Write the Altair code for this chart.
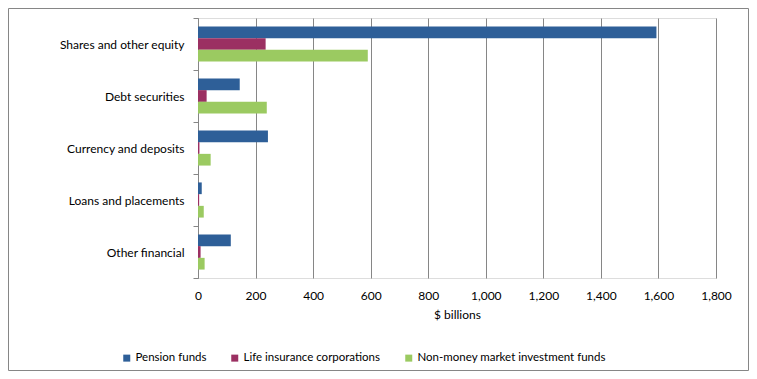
import altair as alt
import pandas as pd

categories = ["Shares and other equity", "Debt securities", "Currency and deposits",
              "Loans and placements", "Other financial"]
series = ["Pension funds", "Life insurance corporations", "Non-money market investment funds"]
pension = [1593, 145, 243, 13, 114]
life = [235, 30, 5, 4, 9]
nmmf = [590, 239, 44, 20, 23]
colors = ["#2E5F98", "#9B3062", "#9BCA61"]
x_ticks = [0, 200, 400, 600, 800, 1000, 1200, 1400, 1600, 1800]

rows = []
for vals, s in zip([pension, life, nmmf], series):
    for c, v in zip(categories, vals):
        rows.append({"category": c, "series": s, "value": v})
df = pd.DataFrame(rows)

FONT = "Lato"

bars = alt.Chart(df).mark_bar().encode(
    y=alt.Y("category:N", sort=categories,
            scale=alt.Scale(paddingInner=0, paddingOuter=0),
            axis=alt.Axis(title=None, tickBand="extent", domainColor="#868686",
                          tickColor="#868686", tickSize=5, labelPadding=9,
                          labelFontSize=12, labelFont=FONT, labelColor="#000000",
                          labelLimit=300)),
    yOffset=alt.YOffset("series:N", sort=series,
                        scale=alt.Scale(paddingInner=0, paddingOuter=0.72)),
    x=alt.X("value:Q", scale=alt.Scale(domain=[0, 1800], nice=False),
            axis=alt.Axis(title="$ billions", values=x_ticks, format=",d",
                          grid=True, gridColor="#868686", domain=False,
                          ticks=False, labelPadding=12, labelFlush=False,
                          labelFontSize=12, labelFont=FONT, labelColor="#000000",
                          titleFontSize=12, titleFont=FONT, titleFontWeight="normal",
                          titleColor="#000000", titlePadding=8)),
    color=alt.Color("series:N", sort=series,
                    scale=alt.Scale(domain=series, range=colors),
                    legend=alt.Legend(title=None, orient="none", direction="horizontal",
                                      legendX=-77, legendY=334, symbolType="square",
                                      symbolSize=49, symbolStrokeWidth=0,
                                      labelOffset=3, columnPadding=22,
                                      labelFontSize=11.5, labelFont=FONT,
                                      labelColor="#000000", labelLimit=300)),
)

border = alt.Chart(pd.DataFrame({"a": [0]})).mark_rect(
    fill=None, stroke="#868686", strokeWidth=1
).encode(
    x=alt.value(-189.5), x2=alt.value(550.5),
    y=alt.value(-9.5), y2=alt.value(352.5),
)

chart = alt.layer(bars, border).properties(
    width=518, height=260,
    autosize=alt.AutoSizeParams(type="none"),
    padding={"left": 190, "top": 10, "right": 33, "bottom": 93},
).configure_view(stroke=None).configure(background="white")

chart.save("out.html", embed_options={"renderer": "svg", "actions": False})
